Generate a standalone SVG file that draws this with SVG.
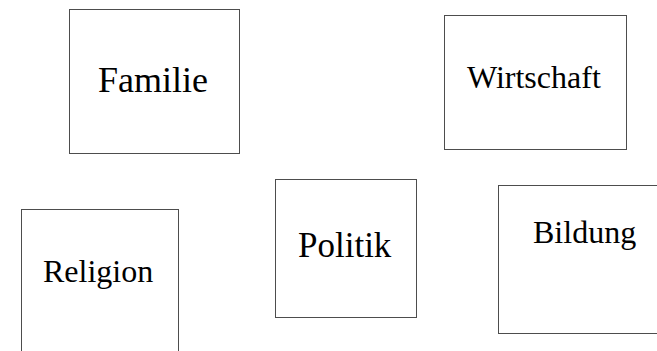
<svg xmlns="http://www.w3.org/2000/svg" width="657" height="351" viewBox="0 0 657 351">
<style>
.box{fill:#fff;stroke:#4d4d4d;stroke-width:1}
.lbl{font-family:"Liberation Serif","Times New Roman",serif;fill:#000}
</style>
<rect width="657" height="351" fill="#fff"/>
<g id="connectors"></g>
<g id="familie">
<rect class="box" x="69.5" y="9.5" width="170" height="144"/>
<text class="lbl" x="98" y="92" font-size="36">Familie</text>
</g>
<g id="wirtschaft">
<rect class="box" x="444.5" y="15.5" width="182" height="134"/>
<text class="lbl" x="467" y="88" font-size="32">Wirtschaft</text>
</g>
<g id="religion">
<rect class="box" x="21.5" y="209.5" width="157" height="150"/>
<text class="lbl" x="43" y="282" font-size="32">Religion</text>
</g>
<g id="politik">
<rect class="box" x="275.5" y="179.5" width="141" height="138"/>
<text class="lbl" x="298" y="256.5" font-size="35">Politik</text>
</g>
<g id="bildung">
<rect class="box" x="498.5" y="185.5" width="170" height="148"/>
<text class="lbl" x="533" y="243" font-size="32">Bildung</text>
</g>
</svg>
